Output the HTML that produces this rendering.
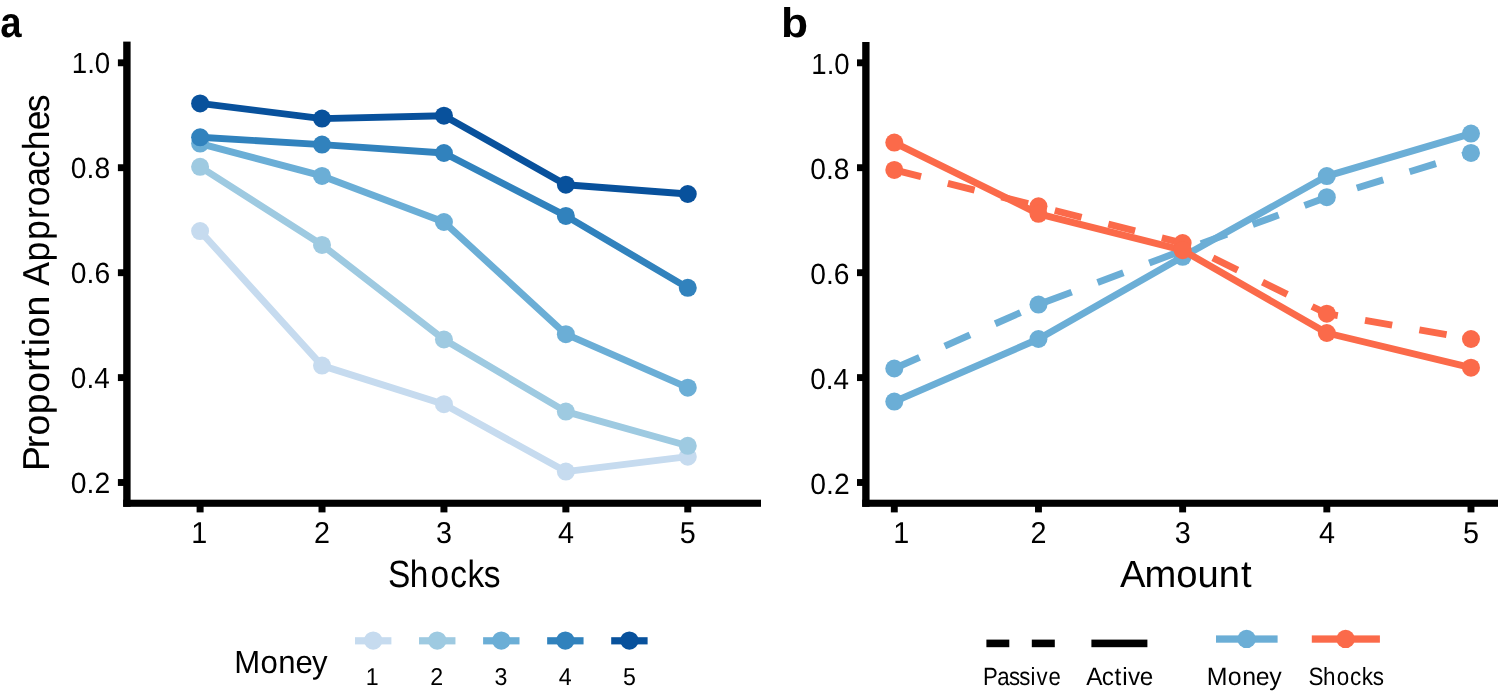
<!DOCTYPE html>
<html><head><meta charset="utf-8"><title>Figure</title>
<style>
html,body{margin:0;padding:0;background:#fff;}
body{width:1498px;height:691px;overflow:hidden;}
svg{display:block;font-family:"Liberation Sans",sans-serif;will-change:transform;}
text{text-rendering:geometricPrecision;}
</style></head><body>
<svg width="1498" height="691" viewBox="0 0 1498 691">
<rect x="0" y="0" width="1498" height="691" fill="#ffffff"/>
<rect x="123.20" y="41.60" width="7.40" height="465.20" fill="#000"/>
<rect x="123.20" y="499.70" width="637.80" height="7.10" fill="#000"/>
<rect x="117.90" y="59.35" width="6.10" height="6.90" fill="#000"/>
<rect x="117.90" y="164.25" width="6.10" height="6.90" fill="#000"/>
<rect x="117.90" y="269.25" width="6.10" height="6.90" fill="#000"/>
<rect x="117.90" y="374.15" width="6.10" height="6.90" fill="#000"/>
<rect x="117.90" y="479.05" width="6.10" height="6.90" fill="#000"/>
<rect x="196.60" y="506.00" width="7.00" height="6.40" fill="#000"/>
<rect x="318.52" y="506.00" width="7.00" height="6.40" fill="#000"/>
<rect x="440.44" y="506.00" width="7.00" height="6.40" fill="#000"/>
<rect x="562.36" y="506.00" width="7.00" height="6.40" fill="#000"/>
<rect x="684.28" y="506.00" width="7.00" height="6.40" fill="#000"/>
<rect x="862.20" y="42.00" width="7.35" height="464.80" fill="#000"/>
<rect x="862.20" y="499.70" width="635.80" height="7.10" fill="#000"/>
<rect x="857.00" y="59.35" width="6.00" height="6.90" fill="#000"/>
<rect x="857.00" y="164.25" width="6.00" height="6.90" fill="#000"/>
<rect x="857.00" y="269.25" width="6.00" height="6.90" fill="#000"/>
<rect x="857.00" y="374.15" width="6.00" height="6.90" fill="#000"/>
<rect x="857.00" y="479.05" width="6.00" height="6.90" fill="#000"/>
<rect x="890.85" y="506.00" width="6.90" height="6.40" fill="#000"/>
<rect x="1035.02" y="506.00" width="6.90" height="6.40" fill="#000"/>
<rect x="1179.19" y="506.00" width="6.90" height="6.40" fill="#000"/>
<rect x="1323.36" y="506.00" width="6.90" height="6.40" fill="#000"/>
<rect x="1467.53" y="506.00" width="6.90" height="6.40" fill="#000"/>
<polyline points="200.10,231.10 322.02,365.60 443.94,404.20 565.86,471.60 687.78,456.70" fill="none" stroke="#C6DBEF" stroke-width="6.9" stroke-linejoin="round"/>
<circle cx="200.10" cy="231.10" r="9.0" fill="#C6DBEF"/>
<circle cx="322.02" cy="365.60" r="9.0" fill="#C6DBEF"/>
<circle cx="443.94" cy="404.20" r="9.0" fill="#C6DBEF"/>
<circle cx="565.86" cy="471.60" r="9.0" fill="#C6DBEF"/>
<circle cx="687.78" cy="456.70" r="9.0" fill="#C6DBEF"/>
<polyline points="200.10,166.80 322.02,244.95 443.94,339.50 565.86,411.60 687.78,445.80" fill="none" stroke="#9ECAE1" stroke-width="6.9" stroke-linejoin="round"/>
<circle cx="200.10" cy="166.80" r="9.0" fill="#9ECAE1"/>
<circle cx="322.02" cy="244.95" r="9.0" fill="#9ECAE1"/>
<circle cx="443.94" cy="339.50" r="9.0" fill="#9ECAE1"/>
<circle cx="565.86" cy="411.60" r="9.0" fill="#9ECAE1"/>
<circle cx="687.78" cy="445.80" r="9.0" fill="#9ECAE1"/>
<polyline points="200.10,143.60 322.02,175.90 443.94,222.00 565.86,334.20 687.78,387.65" fill="none" stroke="#6BAED6" stroke-width="6.9" stroke-linejoin="round"/>
<circle cx="200.10" cy="143.60" r="9.0" fill="#6BAED6"/>
<circle cx="322.02" cy="175.90" r="9.0" fill="#6BAED6"/>
<circle cx="443.94" cy="222.00" r="9.0" fill="#6BAED6"/>
<circle cx="565.86" cy="334.20" r="9.0" fill="#6BAED6"/>
<circle cx="687.78" cy="387.65" r="9.0" fill="#6BAED6"/>
<polyline points="200.10,137.30 322.02,144.60 443.94,153.00 565.86,215.90 687.78,287.85" fill="none" stroke="#3182BD" stroke-width="6.9" stroke-linejoin="round"/>
<circle cx="200.10" cy="137.30" r="9.0" fill="#3182BD"/>
<circle cx="322.02" cy="144.60" r="9.0" fill="#3182BD"/>
<circle cx="443.94" cy="153.00" r="9.0" fill="#3182BD"/>
<circle cx="565.86" cy="215.90" r="9.0" fill="#3182BD"/>
<circle cx="687.78" cy="287.85" r="9.0" fill="#3182BD"/>
<polyline points="200.10,103.40 322.02,118.60 443.94,115.70 565.86,184.70 687.78,194.00" fill="none" stroke="#08519C" stroke-width="6.9" stroke-linejoin="round"/>
<circle cx="200.10" cy="103.40" r="9.0" fill="#08519C"/>
<circle cx="322.02" cy="118.60" r="9.0" fill="#08519C"/>
<circle cx="443.94" cy="115.70" r="9.0" fill="#08519C"/>
<circle cx="565.86" cy="184.70" r="9.0" fill="#08519C"/>
<circle cx="687.78" cy="194.00" r="9.0" fill="#08519C"/>
<polyline points="894.30,368.50 1038.47,304.60 1182.64,250.50 1326.81,197.20 1470.98,152.90" fill="none" stroke="#6BAED6" stroke-width="6.9" stroke-linejoin="round" stroke-dasharray="27.6 27.6"/>
<polyline points="894.30,401.60 1038.47,339.00 1182.64,256.80 1326.81,176.10 1470.98,133.60" fill="none" stroke="#6BAED6" stroke-width="6.9" stroke-linejoin="round"/>
<circle cx="894.30" cy="368.50" r="9.0" fill="#6BAED6"/>
<circle cx="1038.47" cy="304.60" r="9.0" fill="#6BAED6"/>
<circle cx="1182.64" cy="250.50" r="9.0" fill="#6BAED6"/>
<circle cx="1326.81" cy="197.20" r="9.0" fill="#6BAED6"/>
<circle cx="1470.98" cy="152.90" r="9.0" fill="#6BAED6"/>
<circle cx="894.30" cy="401.60" r="9.0" fill="#6BAED6"/>
<circle cx="1038.47" cy="339.00" r="9.0" fill="#6BAED6"/>
<circle cx="1182.64" cy="256.80" r="9.0" fill="#6BAED6"/>
<circle cx="1326.81" cy="176.10" r="9.0" fill="#6BAED6"/>
<circle cx="1470.98" cy="133.60" r="9.0" fill="#6BAED6"/>
<polyline points="894.30,169.90 1038.47,206.30 1182.64,243.10 1326.81,313.70 1470.98,339.00" fill="none" stroke="#FB6A4A" stroke-width="6.9" stroke-linejoin="round" stroke-dasharray="27.6 27.6"/>
<polyline points="894.30,142.60 1038.47,213.80 1182.64,250.20 1326.81,333.00 1470.98,367.70" fill="none" stroke="#FB6A4A" stroke-width="6.9" stroke-linejoin="round"/>
<circle cx="894.30" cy="169.90" r="9.0" fill="#FB6A4A"/>
<circle cx="1038.47" cy="206.30" r="9.0" fill="#FB6A4A"/>
<circle cx="1182.64" cy="243.10" r="9.0" fill="#FB6A4A"/>
<circle cx="1326.81" cy="313.70" r="9.0" fill="#FB6A4A"/>
<circle cx="1470.98" cy="339.00" r="9.0" fill="#FB6A4A"/>
<circle cx="894.30" cy="142.60" r="9.0" fill="#FB6A4A"/>
<circle cx="1038.47" cy="213.80" r="9.0" fill="#FB6A4A"/>
<circle cx="1182.64" cy="250.20" r="9.0" fill="#FB6A4A"/>
<circle cx="1326.81" cy="333.00" r="9.0" fill="#FB6A4A"/>
<circle cx="1470.98" cy="367.70" r="9.0" fill="#FB6A4A"/>
<text transform="translate(0.15,37.47) scale(0.8965,1)" font-size="42.74" font-weight="bold" fill="#000">a</text>
<text transform="translate(781.02,37.19) scale(1.0724,1)" font-size="41.36" font-weight="bold" fill="#000">b</text>
<text transform="translate(71.72,73.00) scale(0.9471,1)" font-size="29.26" fill="#000">1.0</text>
<text transform="translate(811.33,74.00) scale(0.9418,1)" font-size="29.26" fill="#000">1.0</text>
<text transform="translate(70.84,178.00) scale(0.9654,1)" font-size="29.26" fill="#000">0.8</text>
<text transform="translate(810.34,179.00) scale(0.9627,1)" font-size="29.26" fill="#000">0.8</text>
<text transform="translate(70.84,283.00) scale(0.9654,1)" font-size="29.26" fill="#000">0.6</text>
<text transform="translate(810.34,284.00) scale(0.9627,1)" font-size="29.26" fill="#000">0.6</text>
<text transform="translate(70.85,388.00) scale(0.9544,1)" font-size="29.26" fill="#000">0.4</text>
<text transform="translate(810.36,389.00) scale(0.9518,1)" font-size="29.26" fill="#000">0.4</text>
<text transform="translate(70.84,493.00) scale(0.9691,1)" font-size="29.26" fill="#000">0.2</text>
<text transform="translate(810.34,494.00) scale(0.9664,1)" font-size="29.26" fill="#000">0.2</text>
<text transform="translate(191.23,543.00) scale(0.9500,1)" font-size="30.25">1</text>
<text transform="translate(314.01,543.00) scale(0.9500,1)" font-size="30.25">2</text>
<text transform="translate(436.04,543.00) scale(0.9500,1)" font-size="30.25">3</text>
<text transform="translate(557.96,543.00) scale(0.9500,1)" font-size="30.25">4</text>
<text transform="translate(679.80,543.00) scale(0.9500,1)" font-size="30.25">5</text>
<text transform="translate(893.33,543.00) scale(0.9500,1)" font-size="30.25">1</text>
<text transform="translate(1030.46,543.00) scale(0.9500,1)" font-size="30.25">2</text>
<text transform="translate(1174.74,543.00) scale(0.9500,1)" font-size="30.25">3</text>
<text transform="translate(1318.91,543.00) scale(0.9500,1)" font-size="30.25">4</text>
<text transform="translate(1463.00,543.00) scale(0.9500,1)" font-size="30.25">5</text>
<text transform="translate(49.00,467.80) rotate(-90) scale(1.0006,1)" x="-3.10 19.62 32.20 53.60 75.01 95.97 109.60 121.46 130.18 151.32" font-size="37.53">Proportion</text>
<text transform="translate(49.00,285.70) rotate(-90) scale(0.9471,1)" x="-0.09 25.60 48.36 70.46 83.79 104.41 124.06 143.06 164.18 183.17" font-size="37.53">Approaches</text>
<text transform="translate(0,587.00) scale(0.8821,1)" x="439.87 464.39 488.00 510.40 530.01 548.52" font-size="37.96">Shocks</text>
<text transform="translate(0,587.00) scale(1.0061,1)" x="1113.21 1137.62 1169.23 1190.20 1211.28 1233.46" font-size="37.96">Amount</text>
<text transform="translate(0,672.90) scale(0.9678,1)" x="242.03 269.14 287.63 305.32 322.51" font-size="32.15">Money</text>
<text transform="translate(365.84,685.00) scale(0.9500,1)" font-size="24.44">1</text>
<text transform="translate(430.33,685.00) scale(0.9500,1)" font-size="24.44">2</text>
<text transform="translate(494.62,685.00) scale(0.9500,1)" font-size="24.44">3</text>
<text transform="translate(558.82,685.00) scale(0.9500,1)" font-size="24.44">4</text>
<text transform="translate(622.96,685.00) scale(0.9500,1)" font-size="24.44">5</text>
<text transform="translate(0,685.00) scale(0.8871,1)" x="1108.00 1124.08 1137.51 1148.99 1161.59 1168.48 1182.01" font-size="25.02">Passive</text>
<text transform="translate(0,685.00) scale(0.9715,1)" x="1118.23 1134.17 1147.13 1155.21 1161.08 1173.21" font-size="25.02">Active</text>
<text transform="translate(0,685.00) scale(0.9956,1)" x="1212.14 1233.24 1247.63 1261.40 1274.77" font-size="25.02">Money</text>
<text transform="translate(0,685.00) scale(0.8976,1)" x="1457.65 1473.81 1489.37 1504.13 1517.05 1529.25" font-size="25.02">Shocks</text>
<rect x="355.00" y="637.20" width="36.40" height="7.20" fill="#C6DBEF"/>
<circle cx="373.20" cy="640.6" r="9.2" fill="#C6DBEF"/>
<rect x="419.05" y="637.20" width="36.40" height="7.20" fill="#9ECAE1"/>
<circle cx="437.25" cy="640.6" r="9.2" fill="#9ECAE1"/>
<rect x="483.10" y="637.20" width="36.40" height="7.20" fill="#6BAED6"/>
<circle cx="501.30" cy="640.6" r="9.2" fill="#6BAED6"/>
<rect x="547.15" y="637.20" width="36.40" height="7.20" fill="#3182BD"/>
<circle cx="565.35" cy="640.6" r="9.2" fill="#3182BD"/>
<rect x="611.20" y="637.20" width="36.40" height="7.20" fill="#08519C"/>
<circle cx="629.40" cy="640.6" r="9.2" fill="#08519C"/>
<rect x="986.40" y="639.60" width="22.90" height="7.60" fill="#000"/>
<rect x="1031.80" y="639.60" width="23.00" height="7.60" fill="#000"/>
<rect x="1091.40" y="639.60" width="56.00" height="7.60" fill="#000"/>
<rect x="1216.00" y="635.40" width="61.60" height="7.30" fill="#6BAED6"/>
<circle cx="1246.6" cy="638.9" r="9.2" fill="#6BAED6"/>
<rect x="1311.80" y="635.40" width="68.10" height="7.30" fill="#FB6A4A"/>
<circle cx="1345.6" cy="638.9" r="9.2" fill="#FB6A4A"/>
</svg>
</body></html>
